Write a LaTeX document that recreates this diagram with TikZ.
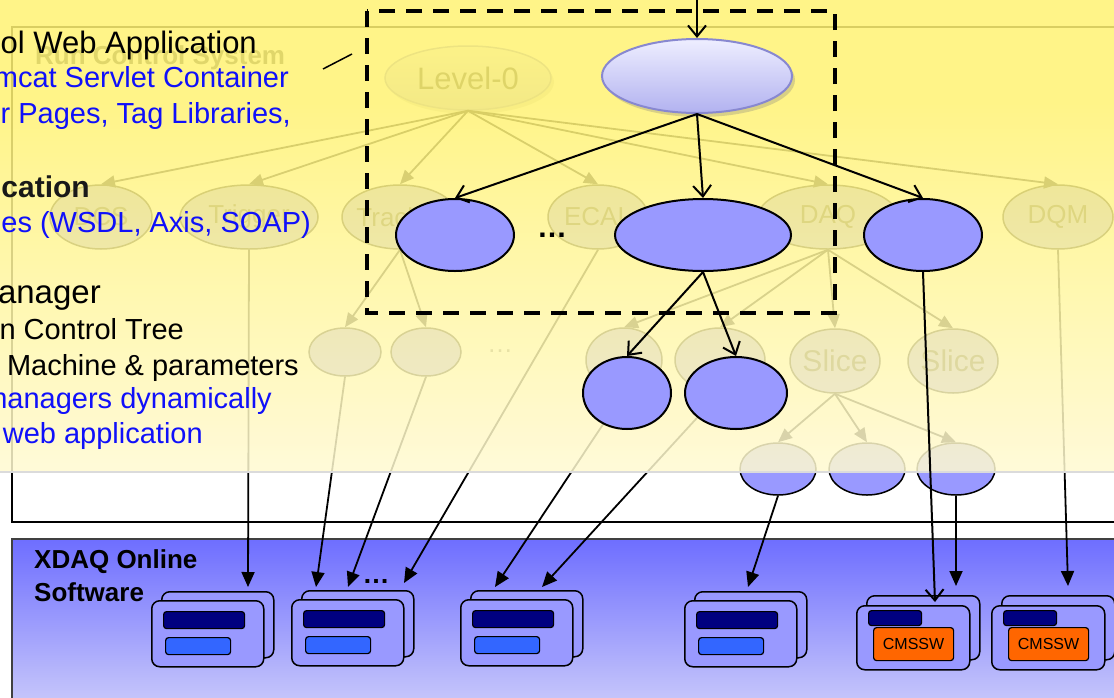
\documentclass[tikz,border=0pt]{standalone}
\usepackage{fontspec}
\setmainfont{Liberation Sans}
\usetikzlibrary{arrows.meta,shapes.geometric,shadows}

\definecolor{ellblue}{HTML}{9999FF}
\definecolor{navybar}{HTML}{000080}
\definecolor{lightbar}{HTML}{3366FF}
\definecolor{cmsorange}{HTML}{FF6600}
\definecolor{ovTop}{RGB}{255,243,116}
\definecolor{ovMid}{RGB}{255,247,168}
\definecolor{ovBot}{RGB}{255,250,210}
\definecolor{xdTop}{RGB}{110,110,255}
\definecolor{xdBot}{RGB}{204,204,250}
\definecolor{lavTop}{RGB}{238,238,255}
\definecolor{lavBot}{RGB}{178,178,240}
\definecolor{lavEdge}{RGB}{136,136,208}
\definecolor{txtblue}{RGB}{16,16,250}

% yellow veil laid over the run control tree
\pgfdeclareverticalshading{veil}{100bp}{color(0bp)=(ovBot); color(25bp)=(ovBot); color(42bp)=(ovMid); color(64bp)=(ovTop); color(100bp)=(ovTop)}

\tikzset{
  ell/.style 2 args={minimum width=#1pt, minimum height=#2pt},
  treenode/.style={ellipse, draw=black, line width=1.5pt, fill=ellblue, inner sep=0pt},
  treelbl/.style={font=\fontsize{26}{26}\selectfont, text=black!85},
  treeedge/.style={line width=1.8pt, -{Triangle[length=14pt,width=12pt]}},
  feed/.style={line width=1.8pt, -{Triangle[length=15pt,width=13pt]}},
  hinode/.style={ellipse, draw=black, line width=2pt, fill=ellblue, inner sep=0pt},
  hiedge/.style={line width=2pt, -{Straight Barb[length=11pt,width=18pt,line width=2pt]}},
  appbox/.style={draw=black, line width=1.5pt, fill=ellblue, rounded corners=8pt, anchor=north west, inner sep=0pt},
  barnode/.style={draw=black, line width=1.2pt, rounded corners=3pt, anchor=north west, inner sep=0pt},
  headtxt/.style={anchor=base east, inner sep=0pt, text=black},
  subtxt/.style={anchor=base east, inner sep=0pt, text=black, font=\fontsize{29}{30}\selectfont},
}

% one XDAQ application: two stacked cards with two bars
\newcommand\plainapp[3]{%
  \node[appbox, minimum width=112pt, minimum height=66pt] (#1-back) at ({#2+10},{#3-9}) {};
  \node[appbox, minimum width=112pt, minimum height=66pt] (#1-front) at (#2,#3) {};
  \node[barnode, fill=navybar, minimum width=81pt, minimum height=17pt] (#1-top) at ({#2+12},{#3+11}) {};
  \node[barnode, fill=lightbar, minimum width=65pt, minimum height=17pt] (#1-low) at ({#2+14},{#3+37}) {};
}
% an XDAQ application hosting CMSSW
\newcommand\cmsapp[3]{%
  \node[appbox, minimum width=113pt, minimum height=64pt] (#1-back) at ({#2+10},{#3-10}) {};
  \node[appbox, minimum width=113pt, minimum height=64pt] (#1-front) at (#2,#3) {};
  \node[barnode, fill=navybar, minimum width=53pt, minimum height=15pt] (#1-top) at ({#2+12},{#3+5}) {};
  \node[barnode, fill=cmsorange, minimum width=80pt, minimum height=33pt, font=\fontsize{16}{16}\selectfont] (#1-cms) at ({#2+17},{#3+22}) {CMSSW};
}

\begin{document}
\begin{tikzpicture}[x=1pt,y=-1pt]
\useasboundingbox (0,0) rectangle (1114,697);
\clip (0,0) rectangle (1114,697);
\fill[white] (0,0) rectangle (1114,697);

% ---------- run control system frame ----------
\draw[line width=2pt] (12,27) rectangle (1130,522);
\node[anchor=base west, inner sep=0pt, font=\bfseries\fontsize{26}{26}\selectfont, text=black!80] (rcslbl) at (35,64) {Run Control System};

% ---------- XDAQ online software panel ----------
\shadedraw[top color=xdTop, bottom color=xdBot, draw=black!75, line width=1.5pt] (12,539) rectangle (1130,712);
\node[anchor=base west, inner sep=0pt, font=\bfseries\fontsize{26}{26}\selectfont] (xdaq1) at (34,568) {XDAQ Online};
\node[anchor=base west, inner sep=0pt, font=\bfseries\fontsize{26}{26}\selectfont] (xdaq2) at (34,601) {Software};

\plainapp{appA}{151}{600}
\plainapp{appB}{291}{599}
\plainapp{appC}{460}{599}
\plainapp{appD}{684}{600}
\cmsapp{appE}{856}{605}
\cmsapp{appF}{991}{605}
\node[anchor=base, inner sep=0pt, font=\bfseries\fontsize{27}{27}\selectfont] (xdots) at (376,583) {\dots};

% ---------- the full control tree ----------
\node[ellipse, inner sep=0pt, ell={166}{64}, top color=lavTop, bottom color=lavBot, draw=lavEdge, line width=1.5pt,
      drop shadow={shadow xshift=3pt, shadow yshift=-4pt, opacity=0.3},
      label={[treelbl, font=\fontsize{31}{31}\selectfont]center:Level-0}] (L0) at (468,78) {};
\node[treenode, ell={102}{64}, label={[treelbl]center:DCS}] (DCS) at (101,217) {};
\node[treenode, ell={138}{64}, label={[treelbl]center:Trigger}] (TRG) at (249,217) {};
\node[treenode, ell={116}{64}, label={[treelbl]center:Tracker}] (TRK) at (400,217) {};
\node[treenode, ell={100}{64}, label={[treelbl]center:ECAL}] (ECAL) at (598,217) {};
\node[treenode, ell={140}{64}, label={[treelbl]center:DAQ}] (DAQ) at (828,217) {};
\node[treenode, ell={110}{64}, label={[treelbl]center:DQM}] (DQM) at (1058,217) {};
\node[treenode, ell={72}{48}] (e1) at (345,352) {};
\node[treenode, ell={70}{48}] (e2) at (426,352) {};
\node[anchor=base, inner sep=0pt, font=\fontsize{26}{26}\selectfont, text=black!60] (edots) at (500,352) {\dots};
\node[treenode, ell={76}{64}] (f1) at (624,360) {};
\node[treenode, ell={90}{64}] (f2) at (720,360) {};
\node[treenode, ell={90}{64}, label={[treelbl, font=\fontsize{30}{30}\selectfont]center:Slice}] (S1) at (835,361) {};
\node[treenode, ell={90}{64}, label={[treelbl, font=\fontsize{30}{30}\selectfont]center:Slice}] (S2) at (953,361) {};
\node[treenode, ell={76}{52}] (g1) at (778,469) {};
\node[treenode, ell={76}{52}] (g2) at (867,469) {};
\node[treenode, ell={78}{52}] (g3) at (956,469) {};

\foreach \n in {DCS,TRG,TRK,ECAL,DAQ,DQM} \draw[treeedge] (L0.south) -- (\n.north);
\foreach \n in {e1,e2} \draw[treeedge] (TRK.south) -- (\n.north);
\foreach \n in {f1,f2,S1,S2} \draw[treeedge] (DAQ.south) -- (\n.north);
\foreach \n in {g1,g2,g3} \draw[treeedge] (S1.south) -- (\n.north);

% feeds from the tree leaves into the XDAQ applications
\coordinate (tA) at (248,587);
\coordinate (tB1) at (316,587);
\coordinate (tB2) at (348,587);
\coordinate (tB3) at (404,583);
\coordinate (tC1) at (495,587);
\coordinate (tC2) at (542,587);
\coordinate (tD) at (748,587);
\coordinate (tE2) at (956,586);
\coordinate (tF) at (1068,586);
\draw[feed] (TRG.south) -- (tA);
\draw[feed] (e1.south) -- (tB1);
\draw[feed] (e2.south) -- (tB2);
\draw[feed] (ECAL.south) -- (tB3);
\draw[feed] (f1.south) -- (tC1);
\draw[feed] (f2.south) -- (tC2);
\draw[feed] (g1.south) -- (tD);
\draw[feed] (g3.south) -- (tE2);
\draw[feed] (DQM.south) -- (tF);

% ---------- yellow veil ----------
\shade[shading=veil, fill opacity=0.85] (-2,-2) rectangle (1120,472);
\draw[line width=2pt, black!14] (-2,472) -- (1120,472);

% ---------- highlighted sub-tree ----------
\draw[line width=4pt, dash pattern=on 16pt off 11pt] (367,11) rectangle (835,313);

\node[ellipse, inner sep=0pt, ell={190}{74}, top color=lavTop, bottom color=lavBot, draw=lavEdge, line width=2pt,
      drop shadow={shadow xshift=3pt, shadow yshift=-4pt, opacity=0.3}] (T) at (697,76) {};
\node[hinode, ell={118}{72}] (H1) at (455,235) {};
\node[hinode, ell={176}{72}] (H2) at (703,235) {};
\node[hinode, ell={118}{72}] (H3) at (923,235) {};
\node[hinode, ell={88}{72}] (N1) at (627,393) {};
\node[hinode, ell={102}{72}] (N2) at (736,393) {};
\node[anchor=base, inner sep=0pt, font=\bfseries\fontsize{30}{30}\selectfont] (hdots) at (552,237) {\dots};

\coordinate (tin) at (697,-5);
\coordinate (tE1) at (935,602);
\draw[hiedge] (tin) -- (T.north);
\foreach \n in {H1,H2,H3} \draw[hiedge] (T.south) -- (\n.north);
\foreach \n in {N1,N2} \draw[hiedge] (H2.south) -- (\n.north);
\draw[hiedge] (H3.south) -- (tE1);

% ---------- description text ----------
\node[headtxt, font=\fontsize{31}{31}\selectfont] (t1) at (257,53) {ol Web Application};
\node[subtxt, text=txtblue] (t2) at (289,87) {mcat Servlet Container};
\node[subtxt, text=txtblue] (t3) at (291,123) {r Pages, Tag Libraries,};
\node[headtxt, font=\bfseries\fontsize{30}{30}\selectfont, text=black!90] (t4) at (90,197) {cation};
\node[subtxt, text=txtblue] (t5) at (311,232) {es (WSDL, Axis, SOAP)};
\node[headtxt, font=\fontsize{33}{33}\selectfont] (t6) at (101,303) {anager};
\node[subtxt] (t7) at (184,339) {n Control Tree};
\node[subtxt] (t8) at (299,375) {Machine \& parameters};
\node[subtxt, text=txtblue] (t9) at (272,408) {managers dynamically};
\node[subtxt, text=txtblue] (t10) at (203,443) {web application};

\coordinate (ptrA) at (323,69);
\coordinate (ptrB) at (352,54);
\draw[line width=1.5pt] (ptrA) -- (ptrB);
\end{tikzpicture}
\end{document}
